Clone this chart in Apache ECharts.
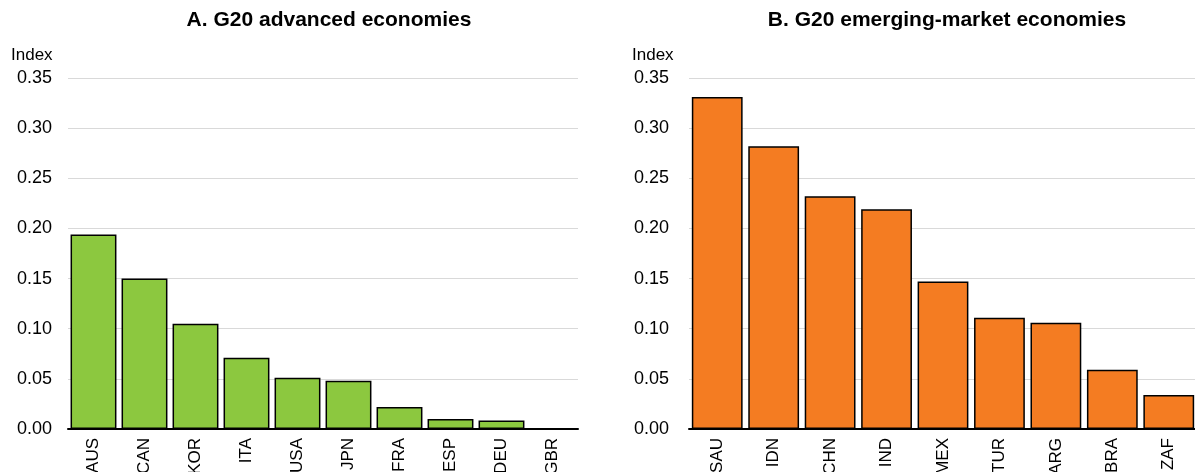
<!DOCTYPE html>
<html><head><meta charset="utf-8">
<script src="https://cdn.jsdelivr.net/npm/echarts@6/dist/echarts.min.js"></script>
<style>html,body{margin:0;padding:0;background:#fff}#c{width:1195px;height:472px}</style>
</head><body><div id="c"></div>
<script>
const titleA = 'A. G20 advanced economies';
const titleB = 'B. G20 emerging-market economies';
const yName = 'Index';
const catsA = ['AUS','CAN','KOR','ITA','USA','JPN','FRA','ESP','DEU','GBR'];
const valsA = [0.194,0.150,0.105,0.071,0.051,0.048,0.022,0.010,0.0085,0.0004];
const catsB = ['SAU','IDN','CHN','IND','MEX','TUR','ARG','BRA','ZAF'];
const valsB = [0.331,0.282,0.232,0.219,0.147,0.111,0.106,0.059,0.034];

const font = 'Liberation Sans, Arial, sans-serif';
const chart = echarts.init(document.getElementById('c'), null, {renderer:'canvas'});
function yAx(i,m){return {gridIndex:i,type:'value',min:0,max:0.35,interval:0.05,
  axisLine:{show:false},axisTick:{show:false},
  axisLabel:{formatter:v=>v.toFixed(2),color:'#000',fontSize:18,fontFamily:font,margin:m},
  splitLine:{lineStyle:{color:'#d9d9d9',width:1}}};}
function xAx(i,c){return {gridIndex:i,type:'category',data:c,
  axisLine:{lineStyle:{color:'#000',width:2}},axisTick:{show:false},
  axisLabel:{rotate:90,color:'#000',fontSize:17,fontFamily:font,margin:9,interval:0}};}
chart.setOption({
  animation:false,
  title:[
    {text:titleA,left:324,top:5,textAlign:'center',textStyle:{fontSize:21,fontWeight:'bold',fontFamily:font,color:'#000'}},
    {text:titleB,left:942,top:5,textAlign:'center',textStyle:{fontSize:21,fontWeight:'bold',fontFamily:font,color:'#000'}}
  ],
  graphic:[
    {type:'text',left:11,top:47,style:{text:yName,fontSize:17,fontFamily:font,fill:'#000'}},
    {type:'text',left:632,top:47,style:{text:yName,fontSize:17,fontFamily:font,fill:'#000'}}
  ],
  grid:[
    {left:68,top:78,width:510,height:351,containLabel:false,outerBoundsMode:'none'},
    {left:689,top:78,width:508,height:351,containLabel:false,outerBoundsMode:'none'}
  ],
  xAxis:[xAx(0,catsA),xAx(1,catsB)],
  yAxis:[yAx(0,16),yAx(1,20)],
  series:[
    {type:'bar',xAxisIndex:0,yAxisIndex:0,data:valsA,barCategoryGap:'10%',
     itemStyle:{color:'#8cc83f',borderColor:'#000',borderWidth:1.5}},
    {type:'bar',xAxisIndex:1,yAxisIndex:1,data:valsB,barCategoryGap:'10%',
     itemStyle:{color:'#f47c22',borderColor:'#000',borderWidth:1.5}}
  ]
});
</script></body></html>
